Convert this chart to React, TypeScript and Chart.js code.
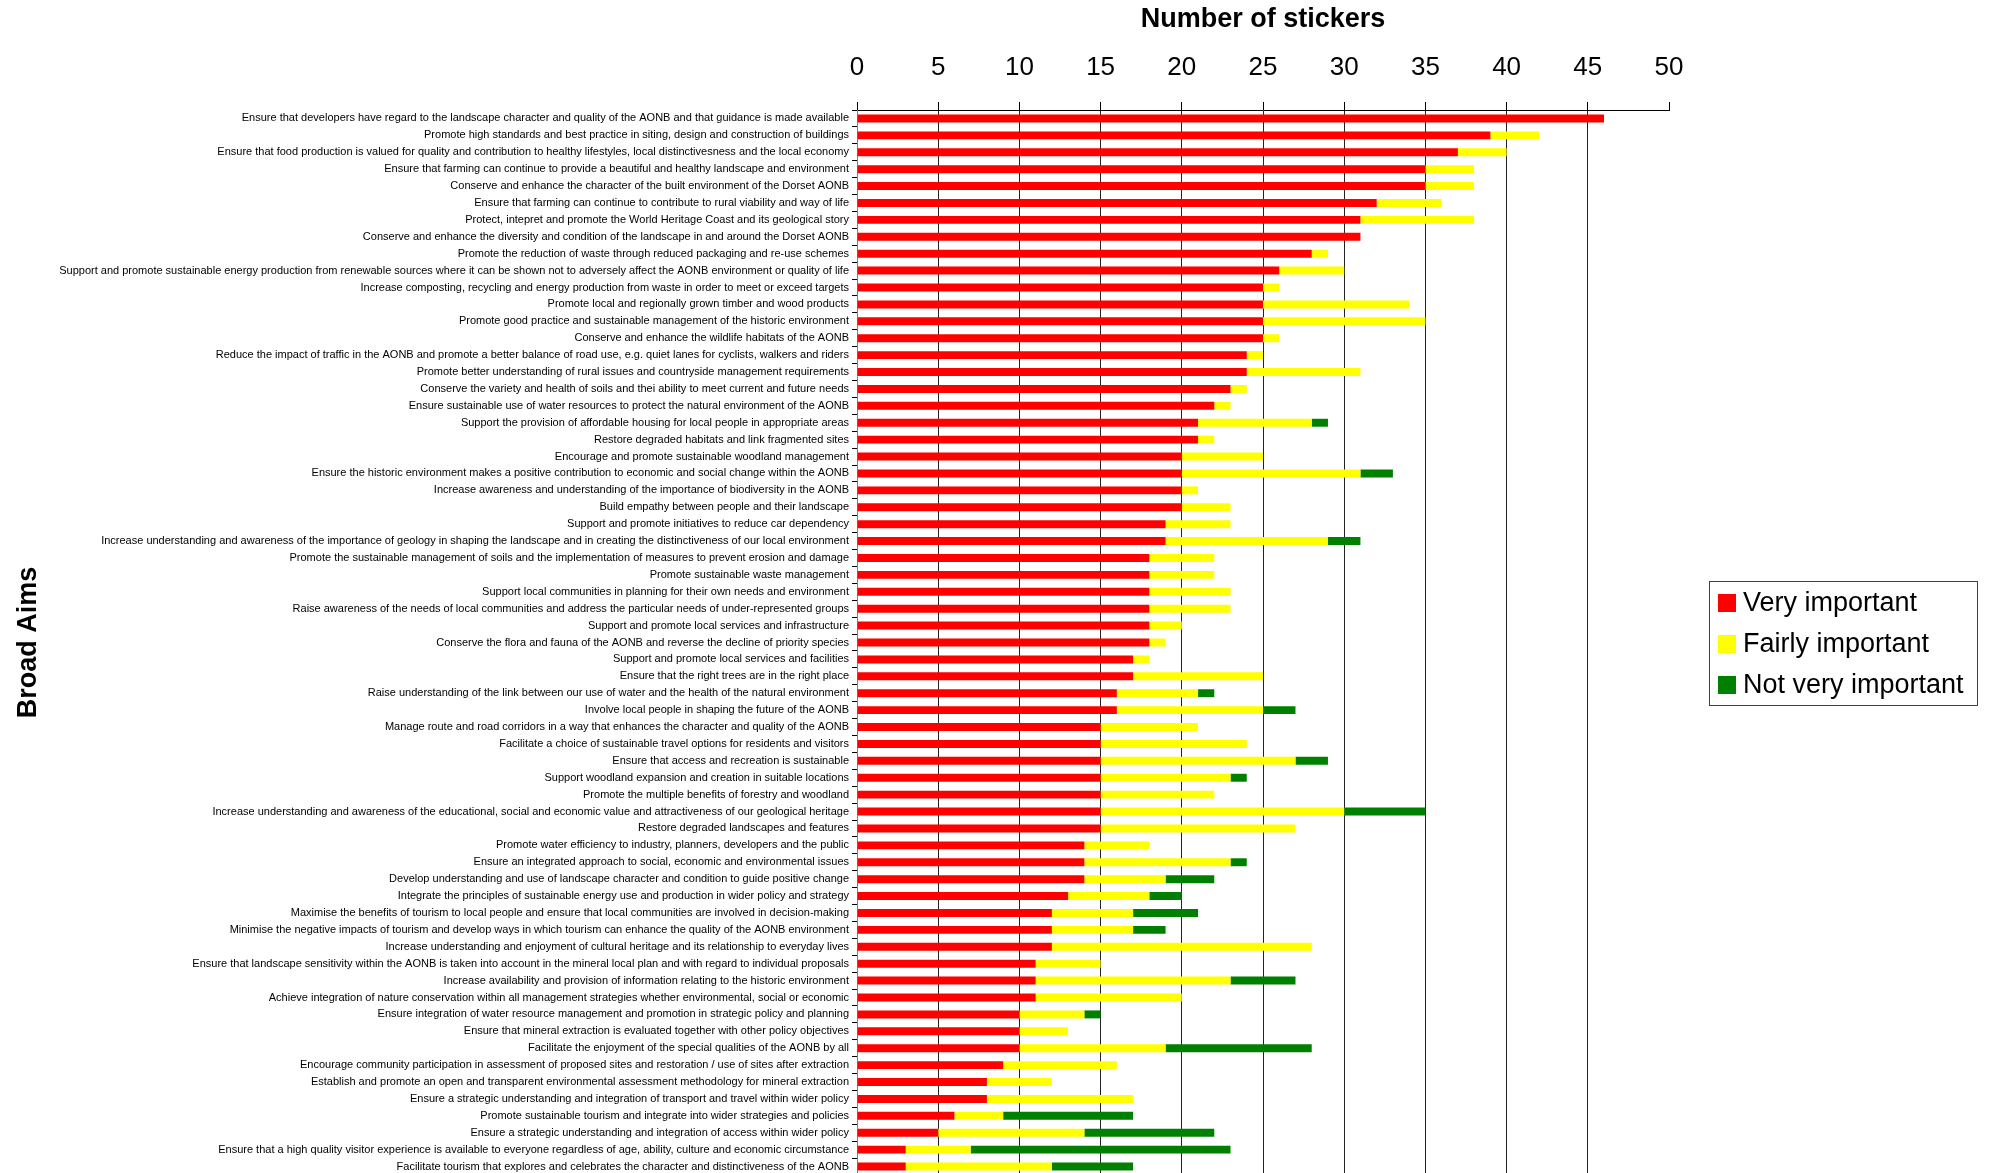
import React, { useEffect, useRef } from 'react';
import { Chart, registerables } from 'chart.js';

Chart.register(...registerables);

const FONT = "'Liberation Sans', Arial, sans-serif";

const categories: string[] = [
  'Ensure that developers have regard to the landscape character and quality of the AONB and that guidance is made available',
  'Promote high standards and best practice in siting, design and construction of buildings',
  'Ensure that food production is valued for quality and contribution to healthy lifestyles, local distinctivesness and the local economy',
  'Ensure that farming can continue to provide a beautiful and healthy landscape and environment',
  'Conserve and enhance the character of the built environment of the Dorset AONB',
  'Ensure that farming can continue to contribute to rural viability and way of life',
  'Protect, intepret and promote the World Heritage Coast and its geological story',
  'Conserve and enhance the diversity and condition of the landscape in and around the Dorset AONB',
  'Promote the reduction of waste through reduced packaging and re-use schemes',
  'Support and promote sustainable energy production from renewable sources where it can be shown not to adversely affect the AONB environment or quality of life',
  'Increase composting, recycling and energy production from waste in order to meet or exceed targets',
  'Promote local and regionally grown timber and wood products',
  'Promote good practice and sustainable management of the historic environment',
  'Conserve and enhance the wildlife habitats of the AONB',
  'Reduce the impact of traffic in the AONB and promote a better balance of road use, e.g. quiet lanes for cyclists, walkers and riders',
  'Promote better understanding of rural issues and countryside management requirements',
  'Conserve the variety and health of soils and thei ability to meet current and future needs',
  'Ensure sustainable use of water resources to protect the natural environment of the AONB',
  'Support the provision of affordable housing for local people in appropriate areas',
  'Restore degraded habitats and link fragmented sites',
  'Encourage and promote sustainable woodland management',
  'Ensure the historic environment makes a positive contribution to economic and social change within the AONB',
  'Increase awareness and understanding of the importance of biodiversity in the AONB',
  'Build empathy between people and their landscape',
  'Support and promote initiatives to reduce car dependency',
  'Increase understanding and awareness of the importance of geology in shaping the landscape and in creating the distinctiveness of our local environment',
  'Promote the sustainable management of soils and the implementation of measures to prevent erosion and damage',
  'Promote sustainable waste management',
  'Support local communities in planning for their own needs and environment',
  'Raise awareness of the needs of local communities and address the particular needs of under-represented groups',
  'Support and promote local services and infrastructure',
  'Conserve the flora and fauna of the AONB and reverse the decline of priority species',
  'Support and promote local services and facilities',
  'Ensure that the right trees are in the right place',
  'Raise understanding of the link between our use of water and the health of the natural environment',
  'Involve local people in shaping the future of the AONB',
  'Manage route and road corridors in a way that enhances the character and quality of the AONB',
  'Facilitate a choice of sustainable travel options for residents and visitors',
  'Ensure that access and recreation is sustainable',
  'Support woodland expansion and creation in suitable locations',
  'Promote the multiple benefits of forestry and woodland',
  'Increase understanding and awareness of the educational, social and economic value and attractiveness of our geological heritage',
  'Restore degraded landscapes and features',
  'Promote water efficiency to industry, planners, developers and the public',
  'Ensure an integrated approach to social, economic and environmental issues',
  'Develop understanding and use of landscape character and condition to guide positive change',
  'Integrate the principles of sustainable energy use and production in wider policy and strategy',
  'Maximise the benefits of tourism to local people and ensure that local communities are involved in decision-making',
  'Minimise the negative impacts of tourism and develop ways in which tourism can enhance the quality of the AONB environment',
  'Increase understanding and enjoyment of cultural heritage and its relationship to everyday lives',
  'Ensure that landscape sensitivity within the AONB is taken into account in the mineral local plan and with regard to individual proposals',
  'Increase availability and provision of information relating to the historic environment',
  'Achieve integration of nature conservation within all management strategies whether environmental, social or economic',
  'Ensure integration of water resource management and promotion in strategic policy and planning',
  'Ensure that mineral extraction is evaluated together with other policy objectives',
  'Facilitate the enjoyment of the special qualities of the AONB by all',
  'Encourage community participation in assessment of proposed sites and restoration / use of sites after extraction',
  'Establish and promote an open and transparent environmental assessment methodology for mineral extraction',
  'Ensure a strategic understanding and integration of transport and travel within wider policy',
  'Promote sustainable tourism and integrate into wider strategies and policies',
  'Ensure a strategic understanding and integration of access within wider policy',
  'Ensure that a high quality visitor experience is available to everyone regardless of age, ability, culture and economic circumstance',
  'Facilitate tourism that explores and celebrates the character and distinctiveness of the AONB',
];

const veryImportant: number[] = [
  46, 39, 37, 35, 35, 32, 31, 31, 28, 26,
  25, 25, 25, 25, 24, 24, 23, 22, 21, 21,
  20, 20, 20, 20, 19, 19, 18, 18, 18, 18,
  18, 18, 17, 17, 16, 16, 15, 15, 15, 15,
  15, 15, 15, 14, 14, 14, 13, 12, 12, 12,
  11, 11, 11, 10, 10, 10, 9, 8, 8, 6,
  5, 3, 3,
];

const fairlyImportant: number[] = [
  0, 3, 3, 3, 3, 4, 7, 0, 1, 4,
  1, 9, 10, 1, 1, 7, 1, 1, 7, 1,
  5, 11, 1, 3, 4, 10, 4, 4, 5, 5,
  2, 1, 1, 8, 5, 9, 6, 9, 12, 8,
  7, 15, 12, 4, 9, 5, 5, 5, 5, 16,
  4, 12, 9, 4, 3, 9, 7, 4, 9, 3,
  9, 4, 9,
];

const notVeryImportant: number[] = [
  0, 0, 0, 0, 0, 0, 0, 0, 0, 0,
  0, 0, 0, 0, 0, 0, 0, 0, 1, 0,
  0, 2, 0, 0, 0, 2, 0, 0, 0, 0,
  0, 0, 0, 0, 1, 2, 0, 0, 2, 1,
  0, 5, 0, 0, 1, 3, 2, 4, 2, 0,
  0, 4, 0, 1, 0, 9, 0, 0, 0, 8,
  8, 16, 5,
];

const seriesLabels = ['Very important', 'Fairly important', 'Not very important'];
const seriesColors = ['#FF0000', '#FFFF00', '#008000'];

const xMin = 0;
const xMax = 50;
const xStep = 5;

const boxLegendPlugin = {
  id: 'boxLegend',
  afterDraw(chart: any) {
    const { ctx, chartArea } = chart;
    const boxLeft = chartArea.right + 40;
    const boxW = 268;
    const boxH = 124;
    const cy = (chartArea.top + chartArea.bottom) / 2;
    const boxTop = cy - boxH / 2;
    ctx.save();
    ctx.strokeStyle = '#404040';
    ctx.lineWidth = 1;
    ctx.strokeRect(Math.round(boxLeft) + 0.5, Math.round(boxTop) + 0.5, boxW, boxH);
    ctx.font = `27px ${FONT}`;
    ctx.textBaseline = 'middle';
    ctx.textAlign = 'left';
    chart.data.datasets.forEach((ds: any, i: number) => {
      const yc = boxTop + 22.5 + i * 41;
      ctx.fillStyle = ds.backgroundColor;
      ctx.fillRect(boxLeft + 9, yc - 9, 18, 18);
      ctx.fillStyle = '#000';
      ctx.fillText(ds.label, boxLeft + 34, yc + 1);
    });
    ctx.restore();
  },
};

export default function App() {
  const ref = useRef<HTMLCanvasElement>(null);

  useEffect(() => {
    if (!ref.current) return;
    const chart = new Chart(ref.current, {
      type: 'bar',
      data: {
        labels: categories,
        datasets: [
          { label: seriesLabels[0], data: veryImportant, backgroundColor: seriesColors[0] },
          { label: seriesLabels[1], data: fairlyImportant, backgroundColor: seriesColors[1] },
          { label: seriesLabels[2], data: notVeryImportant, backgroundColor: seriesColors[2] },
        ],
      },
      options: {
        indexAxis: 'y',
        responsive: false,
        animation: false,
        devicePixelRatio: 1,
        layout: { padding: { left: 0, right: 320, top: 0, bottom: 0 } },
        datasets: {
          bar: { barPercentage: 0.47, categoryPercentage: 1, borderWidth: 0 },
        },
        plugins: {
          legend: { display: false },
          tooltip: { enabled: false },
        },
        scales: {
          x: {
            position: 'top',
            stacked: true,
            min: xMin,
            max: xMax,
            ticks: {
              stepSize: xStep,
              color: '#000',
              padding: 19,
              font: { family: FONT, size: 26 },
            },
            grid: {
              color: (c: any) =>
                c.tick && (c.tick.value === xMax || c.tick.value === xMin) ? 'rgba(0,0,0,0)' : '#222',
              tickColor: '#000',
              tickLength: 8,
              lineWidth: 1,
            },
            border: { display: true, color: '#000', width: 1 },
            title: {
              display: true,
              text: 'Number of stickers',
              color: '#000',
              font: { family: FONT, size: 27, weight: 'bold' },
              padding: { top: 3, bottom: 0 },
            },
            afterFit: (s: any) => {
              s.height = 110;
            },
          },
          y: {
            stacked: true,
            ticks: {
              autoSkip: false,
              color: '#000',
              padding: 3,
              font: { family: FONT, size: 11 },
            },
            grid: {
              drawOnChartArea: false,
              tickLength: 5,
              tickColor: '#000',
              color: '#000',
            },
            border: { display: true, color: '#808080', width: 1 },
            title: {
              display: true,
              text: 'Broad Aims',
              color: '#000',
              font: { family: FONT, size: 27, weight: 'bold' },
              padding: { top: 12, bottom: 0 },
            },
            afterFit: (s: any) => {
              s.width = 857;
              s.paddingTop = 0;
              s.paddingBottom = 0;
            },
          },
        },
      } as any,
      plugins: [boxLegendPlugin],
    });
    return () => chart.destroy();
  }, []);

  return (
    <canvas
      ref={ref}
      width={1989}
      height={1175}
      style={{ position: 'fixed', left: 0, top: 0 }}
    />
  );
}
